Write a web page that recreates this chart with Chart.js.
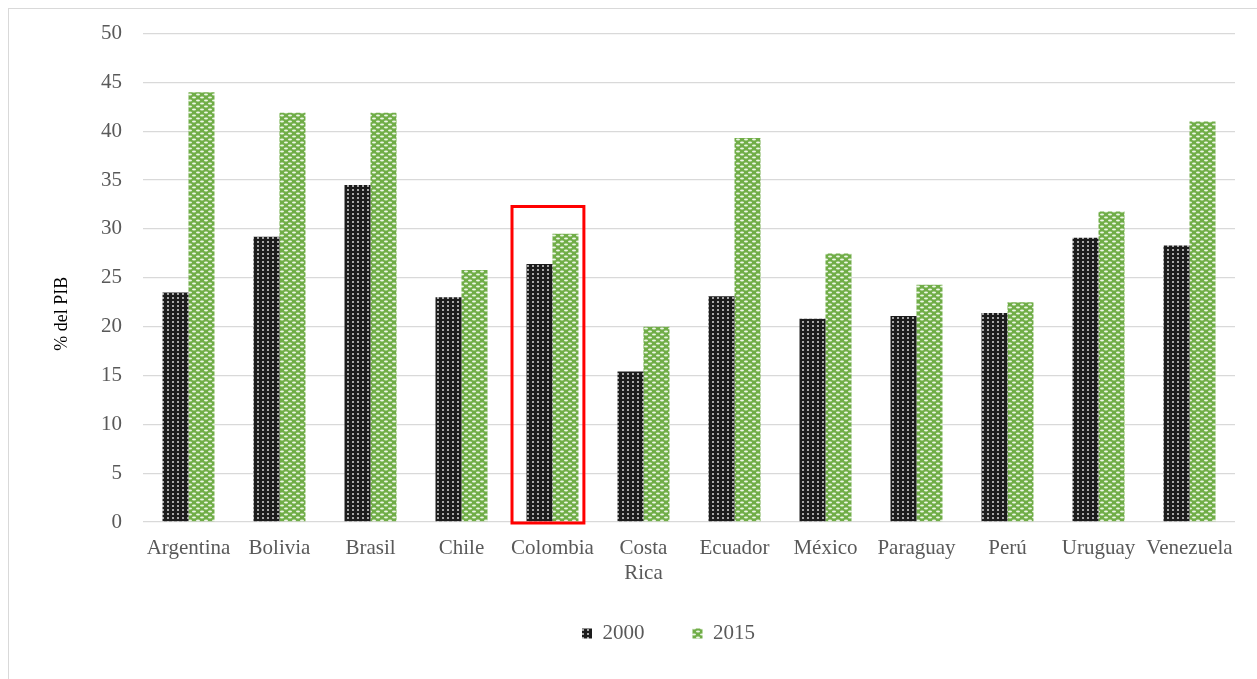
<!DOCTYPE html>
<html>
<head>
<meta charset="utf-8">
<script src="https://cdn.jsdelivr.net/npm/chart.js@4.4.1/dist/chart.umd.min.js"></script>
<style>
    html, body { margin: 0; padding: 0; background: #ffffff; }
    #wrap { position: relative; width: 1257px; height: 679px; }
    #frame { position: absolute; left: 8px; top: 8px; right: -2px; bottom: -2px; border: 1px solid #d9d9d9; }
    canvas { position: absolute; left: 0; top: 0; }
</style>
</head>
<body>
<div id="wrap">
    <div id="frame"></div>
    <canvas id="gasto-chart" width="1257" height="679"></canvas>
</div>
<script>
const paises = ['Argentina', 'Bolivia', 'Brasil', 'Chile', 'Colombia', ['Costa', 'Rica'], 'Ecuador', 'México', 'Paraguay', 'Perú', 'Uruguay', 'Venezuela'];
const valores2000 = [23.5, 29.2, 34.5, 23.0, 26.4, 15.4, 23.1, 20.8, 21.1, 21.4, 29.1, 28.3];
const valores2015 = [44.0, 41.9, 41.9, 25.8, 29.5, 20.0, 39.3, 27.5, 24.3, 22.5, 31.8, 41.0];
const etiquetasSerie = ['2000', '2015'];
const tituloEjeY = '% del PIB';

// recuadro que resalta a Colombia
const resaltadoIndice = 4;
const resaltadoTope = 32.3;

const fuente = '"Liberation Serif", "Times New Roman", serif';
const gris = '#595959';

function makePattern(w, h, base, draw) {
    const c = document.createElement('canvas');
    c.width = w;
    c.height = h;
    const ctx = c.getContext('2d');
    ctx.fillStyle = base;
    ctx.fillRect(0, 0, w, h);
    draw(ctx);
    return document.getElementById('gasto-chart').getContext('2d').createPattern(c, 'repeat');
}

// trama oscura con puntos claros
const tramaNegra = makePattern(5, 4, '#1c1c1c', (ctx) => {
    ctx.fillStyle = '#a8a8a8';
    ctx.fillRect(2, 1, 2, 2);
});

// trama verde con óvalos blancos escalonados
const tramaVerde = makePattern(8, 6, '#70ad47', (ctx) => {
    ctx.fillStyle = '#eef6e8';
    ctx.beginPath();
    ctx.ellipse(2, 1.5, 2, 1, 0, 0, Math.PI * 2);
    ctx.fill();
    ctx.beginPath();
    ctx.ellipse(6, 4.5, 2, 1, 0, 0, Math.PI * 2);
    ctx.fill();
});

const resaltado = {
    id: 'resaltado',
    afterLayout(chart) {
        // la leyenda va algo corrida a la derecha y más arriba
        const lg = chart.legend;
        if (lg) {
            lg.left += 51;
            lg.right += 51;
            lg.top -= 25;
            lg.bottom -= 25;
        }
    },
    afterDatasetsDraw(chart) {
        const { ctx, scales: { x, y } } = chart;
        const left = x.getPixelForValue(resaltadoIndice - 0.445);
        const right = x.getPixelForValue(resaltadoIndice + 0.345);
        const top = y.getPixelForValue(resaltadoTope);
        const bottom = y.getPixelForValue(0) + 1;
        ctx.save();
        ctx.strokeStyle = '#ff0000';
        ctx.lineWidth = 3;
        ctx.strokeRect(left, top, right - left, bottom - top);
        ctx.restore();
    },
    afterDraw(chart) {
        const { ctx, chartArea } = chart;
        ctx.save();
        ctx.translate(62, (chartArea.top + chartArea.bottom) / 2 + 36);
        ctx.rotate(-Math.PI / 2);
        ctx.fillStyle = '#000000';
        ctx.font = '18px ' + fuente;
        ctx.textAlign = 'center';
        ctx.textBaseline = 'middle';
        ctx.fillText(tituloEjeY, 0, 0);
        ctx.restore();
    }
};

new Chart(document.getElementById('gasto-chart'), {
    type: 'bar',
    data: {
        labels: paises,
        datasets: [{
            label: etiquetasSerie[0],
            data: valores2000,
            backgroundColor: tramaNegra,
            borderWidth: 0,
            barPercentage: 1,
            categoryPercentage: 0.571
        }, {
            label: etiquetasSerie[1],
            data: valores2015,
            backgroundColor: tramaVerde,
            borderWidth: 0,
            barPercentage: 1,
            categoryPercentage: 0.571
        }]
    },
    options: {
        responsive: false,
        animation: false,
        layout: { padding: { top: 30, right: 22, bottom: 0, left: 0 } },
        plugins: {
            tooltip: { enabled: false },
            legend: {
                position: 'bottom',
                labels: {
                    color: gris,
                    font: { family: fuente, size: 21 },
                    boxWidth: 10,
                    boxHeight: 10,
                    padding: 48
                }
            }
        },
        scales: {
            x: {
                grid: { display: false },
                border: { display: false },
                ticks: {
                    color: gris,
                    font: { family: fuente, size: 21 },
                    padding: 6,
                    maxRotation: 0,
                    autoSkip: false
                },
                afterFit(scale) { scale.height = 78; }
            },
            y: {
                min: 0,
                max: 50,
                grid: { color: '#d9d9d9', lineWidth: 1.3, drawTicks: false },
                border: { display: false },
                ticks: {
                    stepSize: 5,
                    color: gris,
                    font: { family: fuente, size: 21 },
                    padding: 21
                },
                afterFit(scale) { scale.width = 143; }
            }
        }
    },
    plugins: [resaltado]
});
</script>
</body>
</html>
